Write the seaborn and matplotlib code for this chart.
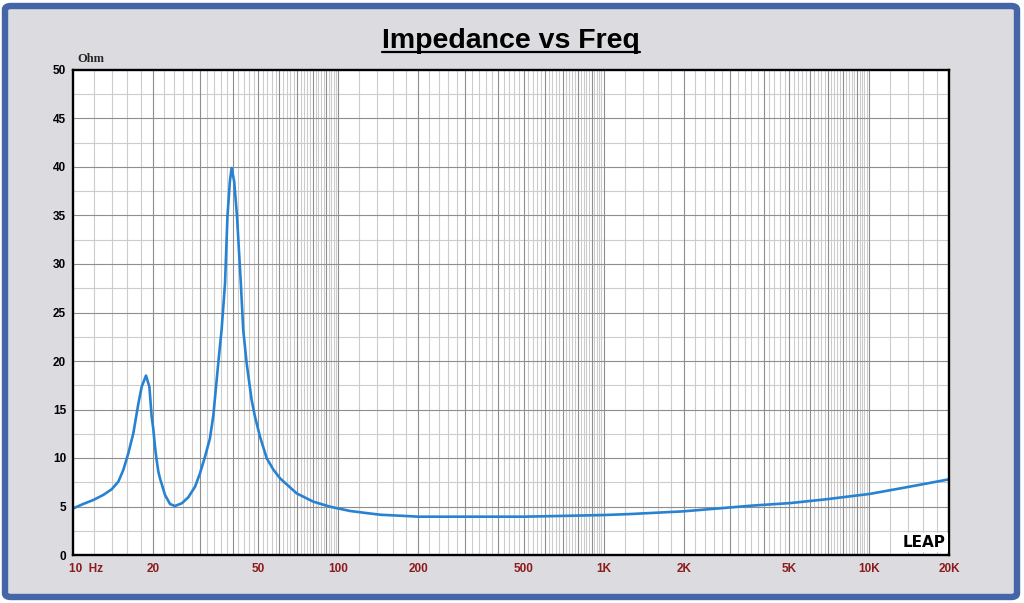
import matplotlib
matplotlib.use("Agg")
import matplotlib.pyplot as plt
from matplotlib.patches import FancyBboxPatch
from matplotlib.lines import Line2D
import seaborn as sns
import pandas as pd

# ---- data ----
freq_hz = [10, 10.93, 11.93, 13.0, 13.98, 14.82, 15.47, 16.16, 16.88, 17.63,
           18.15, 18.84, 19.4, 19.79, 20.07, 20.37, 20.66, 20.97, 21.27, 22.22,
           23.2, 24.2, 25.7, 27.2, 28.83, 30.1, 31.43, 32.8, 33.8, 35.3, 36.3,
           37.4, 38.2, 39.0, 39.6, 40.5, 41.5, 42.9, 43.8, 45.1, 47.1, 48.5,
           50.66, 53.7, 56.9, 60.3, 69.6, 80.4, 93, 110.6, 129.6, 144, 186,
           200, 300, 500, 700, 1000, 1255, 1993, 3657, 5035, 6915, 10070,
           14250, 20000]
impedance_ohm = [4.8, 5.26, 5.67, 6.19, 6.77, 7.56, 8.76, 10.48, 12.55, 15.6,
                 17.35, 18.5, 17.35, 14.26, 13.0, 11.17, 9.8, 8.6, 7.9, 6.19,
                 5.26, 5.05, 5.33, 5.95, 7.04, 8.42, 10.13, 12.0, 14.4, 19.9, 23.2,
                 28.0, 34.9, 38.5, 39.9, 38.5, 34.9, 28.0, 23.2, 19.8, 16.0, 14.26,
                 12.2, 9.97, 8.8, 7.9, 6.36, 5.5, 4.98, 4.54, 4.3, 4.15, 4.0,
                 3.95, 3.95, 3.95, 4.03, 4.12, 4.22, 4.5, 5.1, 5.35, 5.75, 6.3,
                 7.05, 7.8]

y_ticks = [0, 5, 10, 15, 20, 25, 30, 35, 40, 45, 50]
x_tick_values = [10, 20, 50, 100, 200, 500, 1000, 2000, 5000, 10000, 20000]
x_tick_labels = ["10  Hz", "20", "50", "100", "200", "500", "1K", "2K", "5K", "10K", "20K"]

title_text = "Impedance vs Freq"
y_unit = "Ohm"

df = pd.DataFrame({"freq": freq_hz, "imp": impedance_ohm})

sns.set_theme(style="white")
plt.rcParams["font.family"] = ["Liberation Sans", "DejaVu Sans"]

W, H = 1024, 603
fig = plt.figure(figsize=(W / 100, H / 100), dpi=100)
fig.patch.set_facecolor("white")

# panel background with blue frame
panel = FancyBboxPatch((5 / W, 6 / H), 1012 / W, 591 / H,
                       boxstyle="round,pad=0,rounding_size=0.006",
                       transform=fig.transFigure, facecolor="#dcdbe0",
                       edgecolor="#4466a8", linewidth=4.6, zorder=-5)
fig.patches.append(panel)

ax_l, ax_r, ax_t, ax_b = 73, 949, 70, 555
ax = fig.add_axes([ax_l / W, (H - ax_b) / H, (ax_r - ax_l) / W, (ax_b - ax_t) / H])
ax.set_zorder(2)
ax.set_facecolor("white")

ax.set_xscale("log")
ax.set_xlim(10, 20000)
ax.set_ylim(0, 50)

# grid lines
minor_x, major_x = [], []
for d in [1, 10, 100, 1000]:
    for m in range(12, 101, 2):
        f = m * d
        if f > 20000:
            continue
        if m % 10 == 0:
            major_x.append(f)
        else:
            minor_x.append(f)
ax.vlines(minor_x, 0, 50, colors="#cccccc", linewidth=0.8, zorder=1)
ax.vlines(major_x, 0, 50, colors="#8e8e8e", linewidth=0.8, zorder=1.1)
ax.hlines([v + 2.5 for v in y_ticks[:-1]], 10, 20000, colors="#cccccc", linewidth=0.8, zorder=1)
ax.hlines(y_ticks[1:-1], 10, 20000, colors="#8e8e8e", linewidth=0.8, zorder=1.1)

sns.lineplot(data=df, x="freq", y="imp", ax=ax, color="#2882d2",
             linewidth=1.9, sort=False, zorder=3)
ax.set_xlabel("")
ax.set_ylabel("")

for s in ax.spines.values():
    s.set_color("black")
    s.set_linewidth(1.7)
    s.set_zorder(5)

ax.set_xticks([])
ax.xaxis.set_minor_locator(matplotlib.ticker.NullLocator())
ax.set_yticks(y_ticks)
ax.set_yticklabels([str(v) for v in y_ticks], fontsize=8.5, fontweight="bold", color="black")
ax.yaxis.set_minor_locator(matplotlib.ticker.NullLocator())
ax.tick_params(axis="y", length=0, pad=5)

xt = ax.get_xaxis_transform()
for v, lab in zip(x_tick_values, x_tick_labels):
    if v == 10:
        ax.text(9.65, -0.016, lab, transform=xt, ha="left", va="top", fontsize=8.5,
                fontweight="bold", color="#8c1c1c", clip_on=False)
        continue
    ax.text(v, -0.016, lab, transform=xt, ha="center", va="top", fontsize=8.5,
            fontweight="bold", color="#8c1c1c", clip_on=False)

ax.text(0.005, 1.023, y_unit, transform=ax.transAxes, ha="left", va="center",
        fontsize=9, fontweight="bold", family=["Liberation Serif", "DejaVu Serif"], clip_on=False)

ax.text(0.9965, 0.010, "LEAP", transform=ax.transAxes, ha="right", va="bottom",
        fontsize=11, fontweight="heavy", family=["DejaVu Sans"],
        color="black", zorder=6,
        bbox=dict(facecolor="white", edgecolor="none", pad=1.5))

t = fig.text(511 / W, 1 - 48 / H, title_text, ha="center", va="baseline",
             fontsize=20.5, fontweight="bold", color="black")
fig.canvas.draw()
bb = t.get_window_extent()
uy = 1 - 51.5 / H
fig.add_artist(Line2D([bb.x0 / W, bb.x1 / W], [uy, uy], transform=fig.transFigure,
                      color="black", linewidth=1.6))

fig.savefig("out.png", dpi=100, facecolor=fig.get_facecolor())
